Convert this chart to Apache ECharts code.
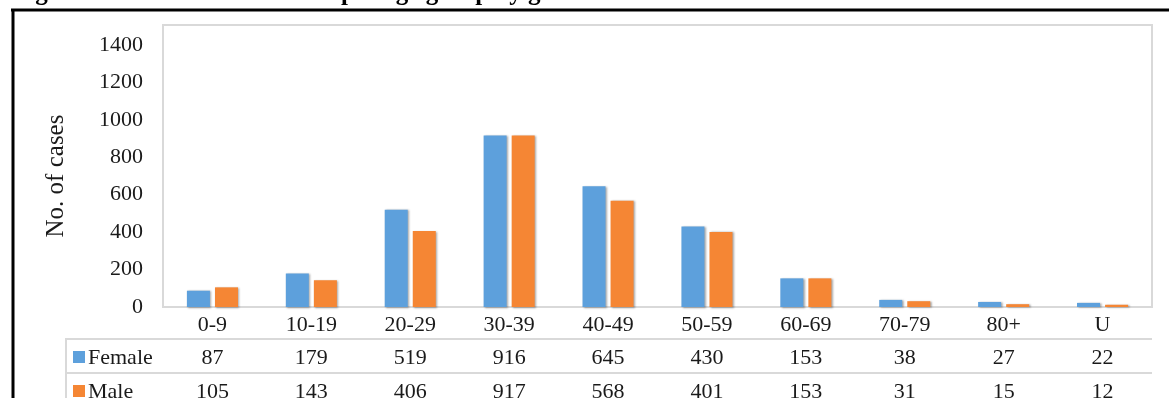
<!DOCTYPE html>
<html>
<head>
<meta charset="utf-8">
<script src="https://cdn.jsdelivr.net/npm/echarts@6/dist/echarts.min.js"></script>
<style>
  html, body { margin: 0; padding: 0; background: #fff; }
  #chart { width: 1169px; height: 398px; }
</style>
</head>
<body>
<div id="chart"></div>
<script>
// data
const ageGroups = ["0-9", "10-19", "20-29", "30-39", "40-49", "50-59", "60-69", "70-79", "80+", "U"];
const female = [87, 179, 519, 916, 645, 430, 153, 38, 27, 22];
const male = [105, 143, 406, 917, 568, 401, 153, 31, 15, 12];
const yTicks = [0, 200, 400, 600, 800, 1000, 1200, 1400];
const seriesNames = ["Female", "Male"];
const seriesColors = ["#5DA0DC", "#F58634"];

const titleText = "Figure 1: Distribution of cases per age group by gender";
const serif = "'Liberation Serif', 'DejaVu Serif', serif";
const gridColor = "#d9d9d9";
const textColor = "#1a1a1a";

const chart = echarts.init(document.getElementById("chart"));

const labelStyle = { fontFamily: serif, fontSize: 22, color: textColor, margin: 7, lineHeight: 22 };

// x axes: first carries the bars + category row, the other two just print the table rows
function rowAxis(values, offset) {
  return {
    type: "category",
    data: values.map(String),
    position: "bottom",
    offset: offset,
    axisLine: { show: false },
    axisTick: { show: false },
    axisLabel: labelStyle,
  };
}

// legend cells of the data table (left column)
const legendCells = [];
seriesNames.forEach((name, i) => {
  const cy = 357 + i * 34;
  legendCells.push({ type: "rect", shape: { x: 73, y: cy - 6, width: 12, height: 12 }, style: { fill: seriesColors[i] } });
  legendCells.push({
    type: "text", x: 88, y: cy + 1,
    style: { text: name, fontFamily: serif, fontSize: 22, fill: textColor, verticalAlign: "middle" },
  });
});

const option = {
  animation: false,
  grid: { left: 163, right: 17, top: 45, bottom: 91, containLabel: false, outerBoundsMode: "none" },
  xAxis: [
    {
      type: "category",
      data: ageGroups,
      axisLine: { lineStyle: { color: gridColor, width: 2 } },
      axisTick: { length: 91, lineStyle: { color: gridColor, width: 2 } },
      axisLabel: labelStyle,
    },
    rowAxis(female, 33),
    rowAxis(male, 67),
  ],
  yAxis: {
    type: "value",
    min: yTicks[0],
    max: yTicks[yTicks.length - 1],
    interval: yTicks[1] - yTicks[0],
    name: "No. of cases",
    nameLocation: "middle",
    nameRotate: 90,
    nameGap: 94,
    nameTextStyle: { fontFamily: serif, fontSize: 25, color: textColor },
    axisLine: { show: false },
    axisTick: { show: false },
    splitLine: { show: false },
    axisLabel: { fontFamily: serif, fontSize: 22, color: textColor, margin: 20, formatter: (v) => String(v) },
  },
  series: seriesNames.map((name, i) => ({
    name: name,
    type: "bar",
    data: i === 0 ? female : male,
    barWidth: 23,
    barGap: "22%",
    itemStyle: { color: seriesColors[i], shadowColor: "rgba(0,0,0,0.35)", shadowBlur: 2, shadowOffsetX: 1.5, shadowOffsetY: 0.5 },
  })),
  graphic: [
    // page title, mostly cropped above the frame
    {
      type: "text",
      left: 13,
      top: -19,
      style: { text: titleText, fontFamily: serif, fontSize: 25, fontWeight: "bold", fill: "#000" },
    },
    // black frame
    { type: "line", shape: { x1: 11, y1: 10, x2: 1169, y2: 10 }, style: { stroke: "#000", lineWidth: 3 } },
    { type: "line", shape: { x1: 13, y1: 9, x2: 13, y2: 398 }, style: { stroke: "#000", lineWidth: 3 } },
    // plot area border
    { type: "rect", shape: { x: 163, y: 25, width: 989, height: 282 }, style: { fill: "none", stroke: gridColor, lineWidth: 2 }, z: -1 },
    // data table lines
    { type: "line", shape: { x1: 66, y1: 339, x2: 1152, y2: 339 }, style: { stroke: gridColor, lineWidth: 2 } },
    { type: "line", shape: { x1: 66, y1: 373, x2: 1152, y2: 373 }, style: { stroke: gridColor, lineWidth: 2 } },
    { type: "line", shape: { x1: 66, y1: 338, x2: 66, y2: 398 }, style: { stroke: gridColor, lineWidth: 2 } },
    ...legendCells,
  ],
};

chart.setOption(option);
window.addEventListener("resize", () => chart.resize());
</script>
</body>
</html>
